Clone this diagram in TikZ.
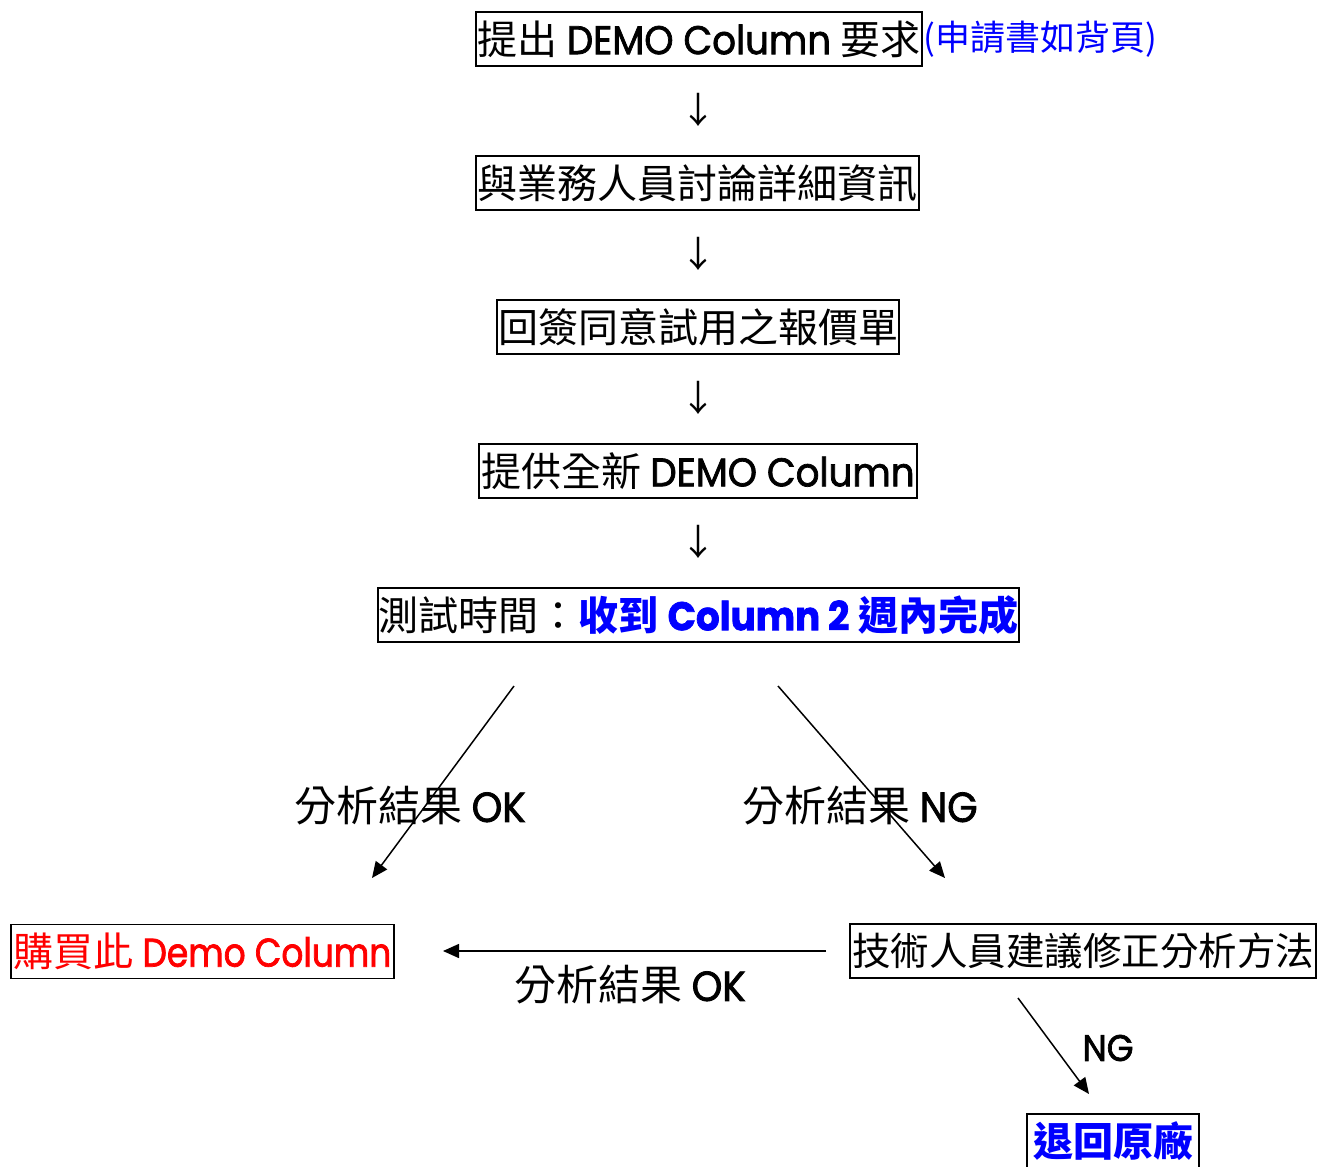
\documentclass[tikz,border=0pt]{standalone}
\usepackage{fontspec}
\setmainfont{Noto Sans CJK TC}
\newfontfamily\latf[FakeStretch=0.93,FakeBold=1.8]{Poppins}
\newfontfamily\latnarrow[FakeStretch=0.86,FakeBold=1.8]{Poppins}
\newcommand\en[1]{{\latf #1}}
\newcommand\enn[1]{{\latnarrow #1}}
\usetikzlibrary{arrows.meta}
\definecolor{myblue}{RGB}{0,0,255}
\definecolor{myred}{RGB}{255,0,0}
\begin{document}
\begin{tikzpicture}[x=1pt,y=-1pt,
  box/.style={draw=black,line width=1.5pt,inner sep=0pt,minimum height=54pt,
    font=\fontsize{40}{48}\selectfont},
  darrow/.style={inner sep=0pt,font=\fontsize{36}{40}\selectfont},
  lbl/.style={inner sep=0pt,font=\fontsize{42}{50}\selectfont},
  conn/.style={line width=1.5pt,-{Triangle[length=16pt,width=14pt]}}]
\useasboundingbox (0,0) rectangle (1317,1167);

\node[box,minimum width=446pt] (b1) at (699,39) {提出 \en{DEMO Column} 要求};
\node[anchor=west,inner sep=0pt,text=myblue,font=\fontsize{35}{40}\selectfont] (b1n) at ([xshift=1pt]b1.east) {(申請書如背頁)};
\node[darrow] (a1) at (698,110) {↓};
\node[box,minimum width=443pt] (b2) at (697.5,183) {與業務人員討論詳細資訊};
\node[darrow] (a2) at (698,254) {↓};
\node[box,minimum width=402pt] (b3) at (698,327) {回簽同意試用之報價單};
\node[darrow] (a3) at (698,398) {↓};
\node[box,minimum width=438pt] (b4) at (698,471) {提供全新 \en{DEMO Column}};
\node[darrow] (a4) at (698,542) {↓};
\node[box,minimum width=641pt] (b5) at (698.5,615) {測試時間：\textcolor{myblue}{\bfseries 收到 \en{Column 2} 週內完成}};

\node[box,minimum width=383pt,text=myred] (b6) at (202.5,951.5) {購買此 \enn{Demo Column}};
\node[box,minimum width=466pt,font=\fontsize{38.5}{46}\selectfont] (b7) at (1083,951) {技術人員建議修正分析方法};
\node[box,minimum width=172pt,text=myblue,font=\fontsize{40}{48}\selectfont\bfseries] (b8) at (1113,1141) {退回原廠};

\coordinate (s1) at (514,686);
\coordinate (e1) at (372,878);
\coordinate (s2) at (778,686);
\coordinate (e2) at (945,878);
\coordinate (s3) at (826,951);
\coordinate (e3) at (443,951);
\coordinate (s4) at (1018,998);
\coordinate (e4) at (1089,1094);

\draw[conn] (s1) -- (e1);
\draw[conn] (s2) -- (e2);
\draw[conn] (s3) -- (e3);
\draw[conn] (s4) -- (e4);

\node[lbl] (l1) at (410,806) {分析結果 \en{OK}};
\node[lbl] (l2) at (860,806) {分析結果 \en{NG}};
\node[lbl] (l3) at (630,985) {分析結果 \en{OK}};
\node[inner sep=0pt,font=\fontsize{37}{44}\selectfont] (l4) at (1108,1048) {\en{NG}};
\end{tikzpicture}
\end{document}
